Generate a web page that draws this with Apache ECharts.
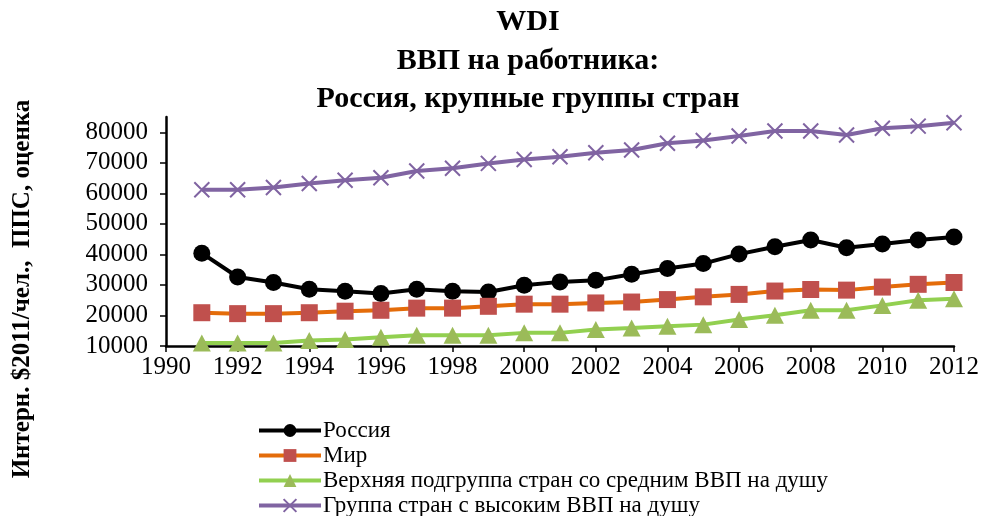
<!DOCTYPE html>
<html lang="ru">

<head>
    <meta charset="UTF-8">
    <title>WDI ВВП на работника</title>
    <script src="https://cdn.jsdelivr.net/npm/echarts@6.0.0/dist/echarts.min.js"></script>
    <style>
        html, body { margin: 0; padding: 0; background: #fff; }
        #container { width: 982px; height: 516px; }
    </style>
</head>

<body>
    <div id="container"></div>
    <script type="text/javascript">
        // годы и значения
        var years = [1991, 1992, 1993, 1994, 1995, 1996, 1997, 1998, 1999, 2000, 2001,
            2002, 2003, 2004, 2005, 2006, 2007, 2008, 2009, 2010, 2011, 2012];
        var russia = [40400, 32600, 30800, 28600, 27900, 27200, 28600, 27900, 27700, 29900, 31000,
            31500, 33500, 35400, 37000, 40100, 42500, 44700, 42200, 43400, 44700, 45700];
        var world = [20900, 20600, 20600, 20900, 21400, 21700, 22400, 22400, 23000, 23700, 23700,
            24100, 24400, 25200, 26100, 26900, 28000, 28500, 28300, 29300, 30200, 30800];
        var upperMiddle = [11000, 11000, 11000, 11800, 12100, 12900, 13500, 13500, 13500, 14300, 14300,
            15400, 15900, 16500, 17000, 18700, 20100, 21700, 21700, 23300, 25000, 25500];
        var highIncome = [61200, 61200, 61900, 63200, 64300, 65100, 67300, 68200, 69800, 71100, 72000,
            73300, 74200, 76400, 77300, 78800, 80400, 80400, 79100, 81300, 82000, 83100];
        var names = ['Россия', 'Мир', 'Верхняя подгруппа стран со средним ВВП на душу', 'Группа стран с высоким ВВП на душу'];

        var serif = '"Liberation Serif", "DejaVu Serif", serif';

        function pairs(vals) {
            return years.map(function (y, i) { return [y, vals[i]]; });
        }
        // без разделителя тысяч, как в оригинале
        function plain(v) { return String(v); }

        var dom = document.getElementById("container");
        var myChart = echarts.init(dom, null, { renderer: 'canvas' });
        var option = {
            animation: false,
            backgroundColor: '#fff',
            graphic: [{
                type: 'text',
                style: {
                    text: 'WDI\nВВП на работника:\nРоссия, крупные группы стран',
                    x: 528, y: 3,
                    textAlign: 'center',
                    font: 'bold 30px ' + serif,
                    lineHeight: 38.5,
                    fill: '#000'
                }
            }, {
                type: 'text',
                x: 23, y: 289,
                rotation: Math.PI / 2,
                style: {
                    text: 'Интерн. $2011/чел.,  ППС, оценка',
                    textAlign: 'center',
                    textVerticalAlign: 'middle',
                    font: 'bold 25px ' + serif,
                    fill: '#000'
                }
            }],
            grid: { left: 166, right: 28, top: 117, bottom: 170 },
            legend: {
                orient: 'vertical',
                left: 257,
                top: 419,
                height: 110,
                padding: 0,
                itemWidth: 62,
                itemHeight: 16,
                itemGap: 2,
                lineStyle: { width: 4 },
                textStyle: { fontFamily: serif, fontSize: 23, color: '#000', padding: [0, 0, 0, -3] },
                data: names
            },
            xAxis: {
                type: 'value',
                min: 1990, max: 2012, interval: 2,
                axisLine: { lineStyle: { color: '#000', width: 2.5 } },
                axisTick: { length: 6, lineStyle: { color: '#000', width: 1.5 } },
                axisLabel: { color: '#000', fontFamily: serif, fontSize: 25, margin: 9, formatter: plain },
                splitLine: { show: false }
            },
            yAxis: {
                type: 'value',
                min: 10000, max: 85000, interval: 10000,
                axisLine: { show: true, lineStyle: { color: '#000', width: 2.5 } },
                axisTick: { show: true, length: 6, lineStyle: { color: '#000', width: 1.5 } },
                axisLabel: { color: '#000', fontFamily: serif, fontSize: 25, margin: 18, showMaxLabel: false, formatter: plain },
                splitLine: { show: false }
            },
            series: [{
                name: names[0],
                type: 'line',
                data: pairs(russia),
                symbol: 'circle',
                symbolSize: 17,
                lineStyle: { color: '#000', width: 4 },
                itemStyle: { color: '#000' }
            }, {
                name: names[1],
                type: 'line',
                data: pairs(world),
                symbol: 'rect',
                symbolSize: 17,
                lineStyle: { color: '#E46C0A', width: 4 },
                itemStyle: { color: '#C0504D' }
            }, {
                name: names[2],
                type: 'line',
                data: pairs(upperMiddle),
                symbol: 'triangle',
                symbolSize: [18, 17],
                lineStyle: { color: '#92D050', width: 4 },
                itemStyle: { color: '#9BBB59' }
            }, {
                name: names[3],
                type: 'line',
                data: pairs(highIncome),
                symbol: 'path://M0,0L10,10M10,0L0,10',
                symbolSize: 15,
                lineStyle: { color: '#8064A2', width: 4 },
                itemStyle: { color: '#8064A2', borderColor: '#8064A2', borderWidth: 2 }
            }]
        };

        if (option && typeof option === 'object') {
            myChart.setOption(option);
        }
    </script>
</body>

</html>
